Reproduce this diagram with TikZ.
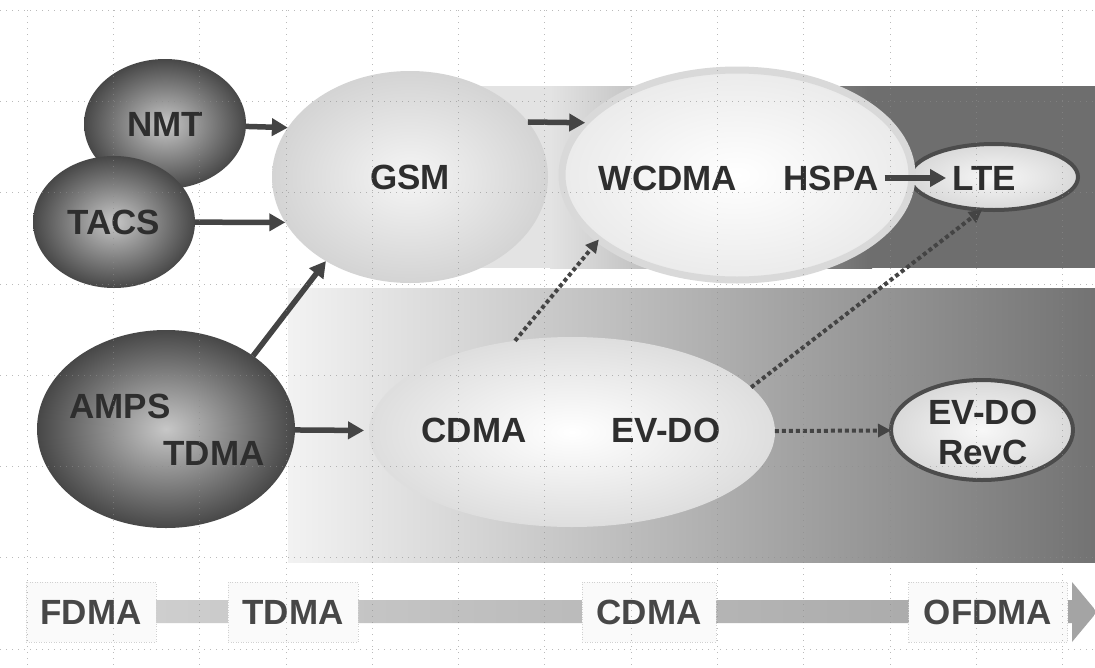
\documentclass[tikz,border=0pt]{standalone}
\usepackage{fontspec}
\setmainfont{Liberation Sans}
\usetikzlibrary{shapes.geometric,arrows.meta}

\definecolor{txtgray}{HTML}{2E2E2E}
\definecolor{arrgray}{HTML}{444444}

\begin{document}
\begin{tikzpicture}[x=1pt,y=-1pt,
    lbl/.style={font=\fontsize{35}{40}\selectfont\bfseries,text=txtgray,inner sep=6pt},
    darkball/.style={ellipse,inner sep=0pt,outer sep=0pt,inner color=black!22,outer color=black!72},
    lightball/.style={ellipse,inner sep=0pt,outer sep=0pt,inner color=black!4,outer color=black!17},
    ringball/.style={ellipse,inner sep=0pt,outer sep=0pt,draw=black!70,line width=4pt,inner color=black!3,outer color=black!15},
    solidarr/.style={draw=arrgray,line width=5.5pt,-{Triangle[length=16pt,width=17pt]}},
    dotarr/.style={draw=arrgray,line width=4pt,dash pattern=on 4pt off 3pt,-{Triangle[length=13pt,width=13pt]}},
    gridline/.style={draw=black!45,line width=0.8pt,dash pattern=on 1pt off 5pt,opacity=0.6},
    techbox/.style={draw=black!18,line width=0.8pt,dash pattern=on 1pt off 1.5pt,fill=black!2,minimum height=60pt,inner sep=0pt}]

  \useasboundingbox (0,0) rectangle (1095,667);
  \fill[white] (0,0) rectangle (1095,667);

  % bands
  \fill[black!11] (420,86) rectangle (552,268);
  \shade[left color=black!11,right color=black!57] (550,86) rectangle (872,268);
  \fill[black!57] (870,86) rectangle (1095,268);
  \shade[left color=black!5,right color=black!55] (288,288) rectangle (1095,562);

  % access scheme bar
  \shade[left color=black!17,right color=black!36] (30,600) -- (1072,600) -- (1072,582)
    -- (1097,612) -- (1072,642) -- (1072,623) -- (30,623) -- cycle;
  \node[techbox,lbl,text=black!72,minimum width=130pt] (fdma) at (91,612) {FDMA};
  \node[techbox,lbl,text=black!72,minimum width=130pt] (tdma) at (293,612) {TDMA};
  \node[techbox,lbl,text=black!72,minimum width=134pt] (cdmabox) at (649,612) {CDMA};
  \node[techbox,lbl,text=black!72,minimum width=159pt] (ofdma) at (988,612) {OFDMA};

  % systems
  \node[lightball,inner color=white,outer color=black!13,minimum width=406pt,minimum height=190pt] (cdma) at (572,432) {};
  \node[ringball,minimum width=182pt,minimum height=100pt] (revc) at (982,430) {};
  \node[lightball,minimum width=276pt,minimum height=212pt,lbl] (gsm) at (410,177) {GSM};
  \node[darkball,minimum width=162pt,minimum height=130pt,lbl] (nmt) at (165,124) {NMT};
  \node[darkball,minimum width=162pt,minimum height=132pt,lbl] (tacs) at (114,222) {TACS};
  \node[darkball,minimum width=258pt,minimum height=198pt] (amps) at (166,429) {};
  \node[ringball,minimum width=168pt,minimum height=66pt] (lte) at (994,177) {};
  \node[lightball,draw=black!15,line width=7pt,inner color=white,outer color=black!8,
    minimum width=350pt,minimum height=210pt] (wcdma) at (737,175) {};

  % labels
  \node[lbl] (ampslbl) at (120,406) {AMPS};
  \node[lbl] (tdmalbl) at (214,453) {TDMA};
  \node[lbl] (wcdmalbl) at (668,178) {WCDMA};
  \node[lbl] (hspa) at (831,178) {HSPA};
  \node[lbl] (ltelbl) at (984,178) {LTE};
  \node[lbl] (cdmalbl) at (474,430) {CDMA};
  \node[lbl] (evdo) at (666,430) {EV-DO};
  \node[lbl,align=center] (revclbl) at (983,432) {EV-DO\\RevC};

  % evolution
  \draw[solidarr] (nmt) -- (gsm.158);
  \draw[solidarr] (tacs) -- (gsm.200);
  \draw[solidarr] (amps.40) -- (gsm.225);
  \draw[solidarr,shorten >=5pt] (amps) -- (cdma);
  \draw[solidarr] (gsm.25) -- (wcdma.161);
  \draw[solidarr] (hspa) -- (ltelbl);
  \draw[dotarr] (cdma.122) -- (wcdma.205);
  \draw[dotarr] (cdma.14) -- (lte.250);
  \draw[dotarr] (cdma) -- (revc);

  % grid
  \foreach \i in {0,...,12} \draw[gridline] ({27+86.3*\i},10) -- ({27+86.3*\i},667);
  \foreach \j in {0,...,7} \draw[gridline] (0,{10+91.3*\j}) -- (1095,{10+91.3*\j});

\end{tikzpicture}
\end{document}
